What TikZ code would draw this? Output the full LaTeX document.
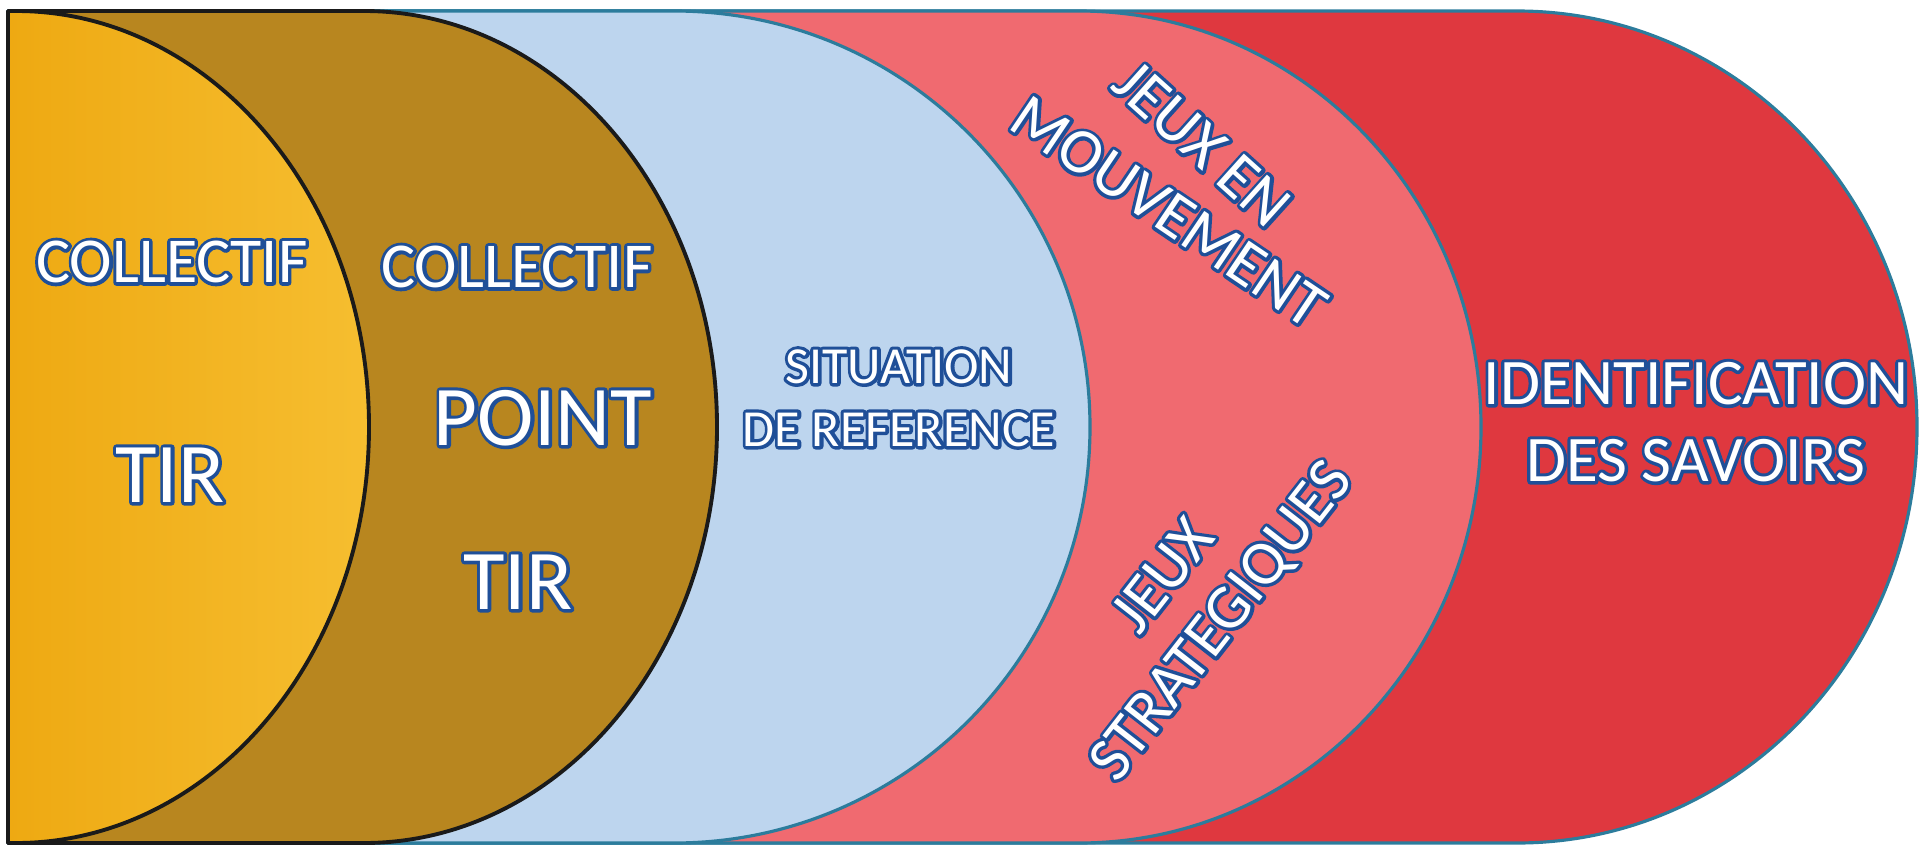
\documentclass[tikz,border=0pt]{standalone}
\usepackage{fontspec}
\setmainfont{Carlito}
\usetikzlibrary{positioning}
\definecolor{clrGold}{HTML}{F2B21F}
\definecolor{clrGoldDeep}{HTML}{EEA912}
\definecolor{clrGoldLight}{HTML}{F6BE30}
\definecolor{clrBronze}{HTML}{B8861F}
\definecolor{clrSky}{HTML}{BDD5EE}
\definecolor{clrRose}{HTML}{F06A70}
\definecolor{clrCrimson}{HTML}{DF383F}
\definecolor{clrInk}{HTML}{1A1A1A}
\definecolor{clrTeal}{HTML}{2C7C9C}

% white letters over a blue stroked copy (outline outside the glyphs)
\newcommand{\outl}[1]{%
  \rlap{\special{pdf:literal direct 1 Tr 1.9 w 1 j 0.122 0.310 0.596 RG}%
    #1\special{pdf:literal direct 0 Tr}}%
  #1}

\begin{document}
\begin{tikzpicture}[
  darkzone/.style = {draw=clrInk, line width=1.1pt, line join=round},
  tealzone/.style = {draw=clrTeal, line width=0.9pt, line join=round},
  txt/.style = {
    text=white,
    align=center,
    inner sep=0pt,
    font=\fontsize{18.2}{21.9}\selectfont
  },
  bigtxt/.style = {txt, font=\fontsize{24.2}{28}\selectfont},
  smalltxt/.style = {txt, font=\fontsize{14.8}{17.9}\selectfont},
  every node/.style={outer sep=0pt}
]

\useasboundingbox (0,0) rectangle (19.29,8.45);

% ── zones, back to front ─────────────────────────────────────────────────────
\draw[tealzone, fill=clrCrimson] (0.08,0.02) -- (0.08,8.34) -- (15.17,8.34)
  arc[start angle=90, end angle=-90, x radius=4.00, y radius=4.16] -- cycle;
\draw[tealzone, fill=clrRose] (0.08,0.02) -- (0.08,8.34) -- (10.79,8.34)
  arc[start angle=90, end angle=-90, x radius=4.02, y radius=4.16] -- cycle;
\draw[tealzone, fill=clrSky] (0.08,0.02) -- (0.08,8.34) -- (6.74,8.34)
  arc[start angle=90, end angle=-90, x radius=4.16, y radius=4.16] -- cycle;
\draw[darkzone, fill=clrBronze] (0.08,0.02) -- (0.08,8.34) -- (3.64,8.34)
  arc[start angle=90, end angle=-90, x radius=3.53, y radius=4.16] -- cycle;
\draw[darkzone, left color=clrGoldDeep, right color=clrGoldLight]
  (0.08,0.02) -- (0.08,8.34) -- (0.16,8.34)
  arc[start angle=90, end angle=-90, x radius=3.53, y radius=4.16] -- cycle;

% ── labels ───────────────────────────────────────────────────────────────────
\node[txt]    (collectif1) at (1.72,5.83) {\outl{COLLECTIF}};
\node[bigtxt] (tir1)       at (1.70,3.70) {\outl{TIR}};

\node[txt]    (collectif2) at (5.17,5.78) {\outl{COLLECTIF}};
\node[bigtxt] (point2)     at (5.43,4.27) {\outl{POINT}};
\node[bigtxt] (tir2)       at (5.18,2.63) {\outl{TIR}};

\node[smalltxt] (situation) at (8.99,4.47)
  {\outl{SITUATION}\\ \outl{DE REFERENCE}};

\node[txt, rotate=-42] (jeuxen)    at (12.02,7.01) {\outl{JEUX EN}};
\node[txt, rotate=-34] (mouvement) at (11.69,6.33) {\outl{MOUVEMENT}};

\node[txt, rotate=52, font=\fontsize{18}{20.8}\selectfont] (strategiques) at (11.94,2.45)
  {\outl{JEUX}\\ \outl{STRATEGIQUES}};

\node[txt, font=\fontsize{18.5}{21.9}\selectfont] (savoirs) at (16.96,4.23)
  {\outl{IDENTIFICATION}\\ \outl{DES SAVOIRS}};

\end{tikzpicture}
\end{document}
